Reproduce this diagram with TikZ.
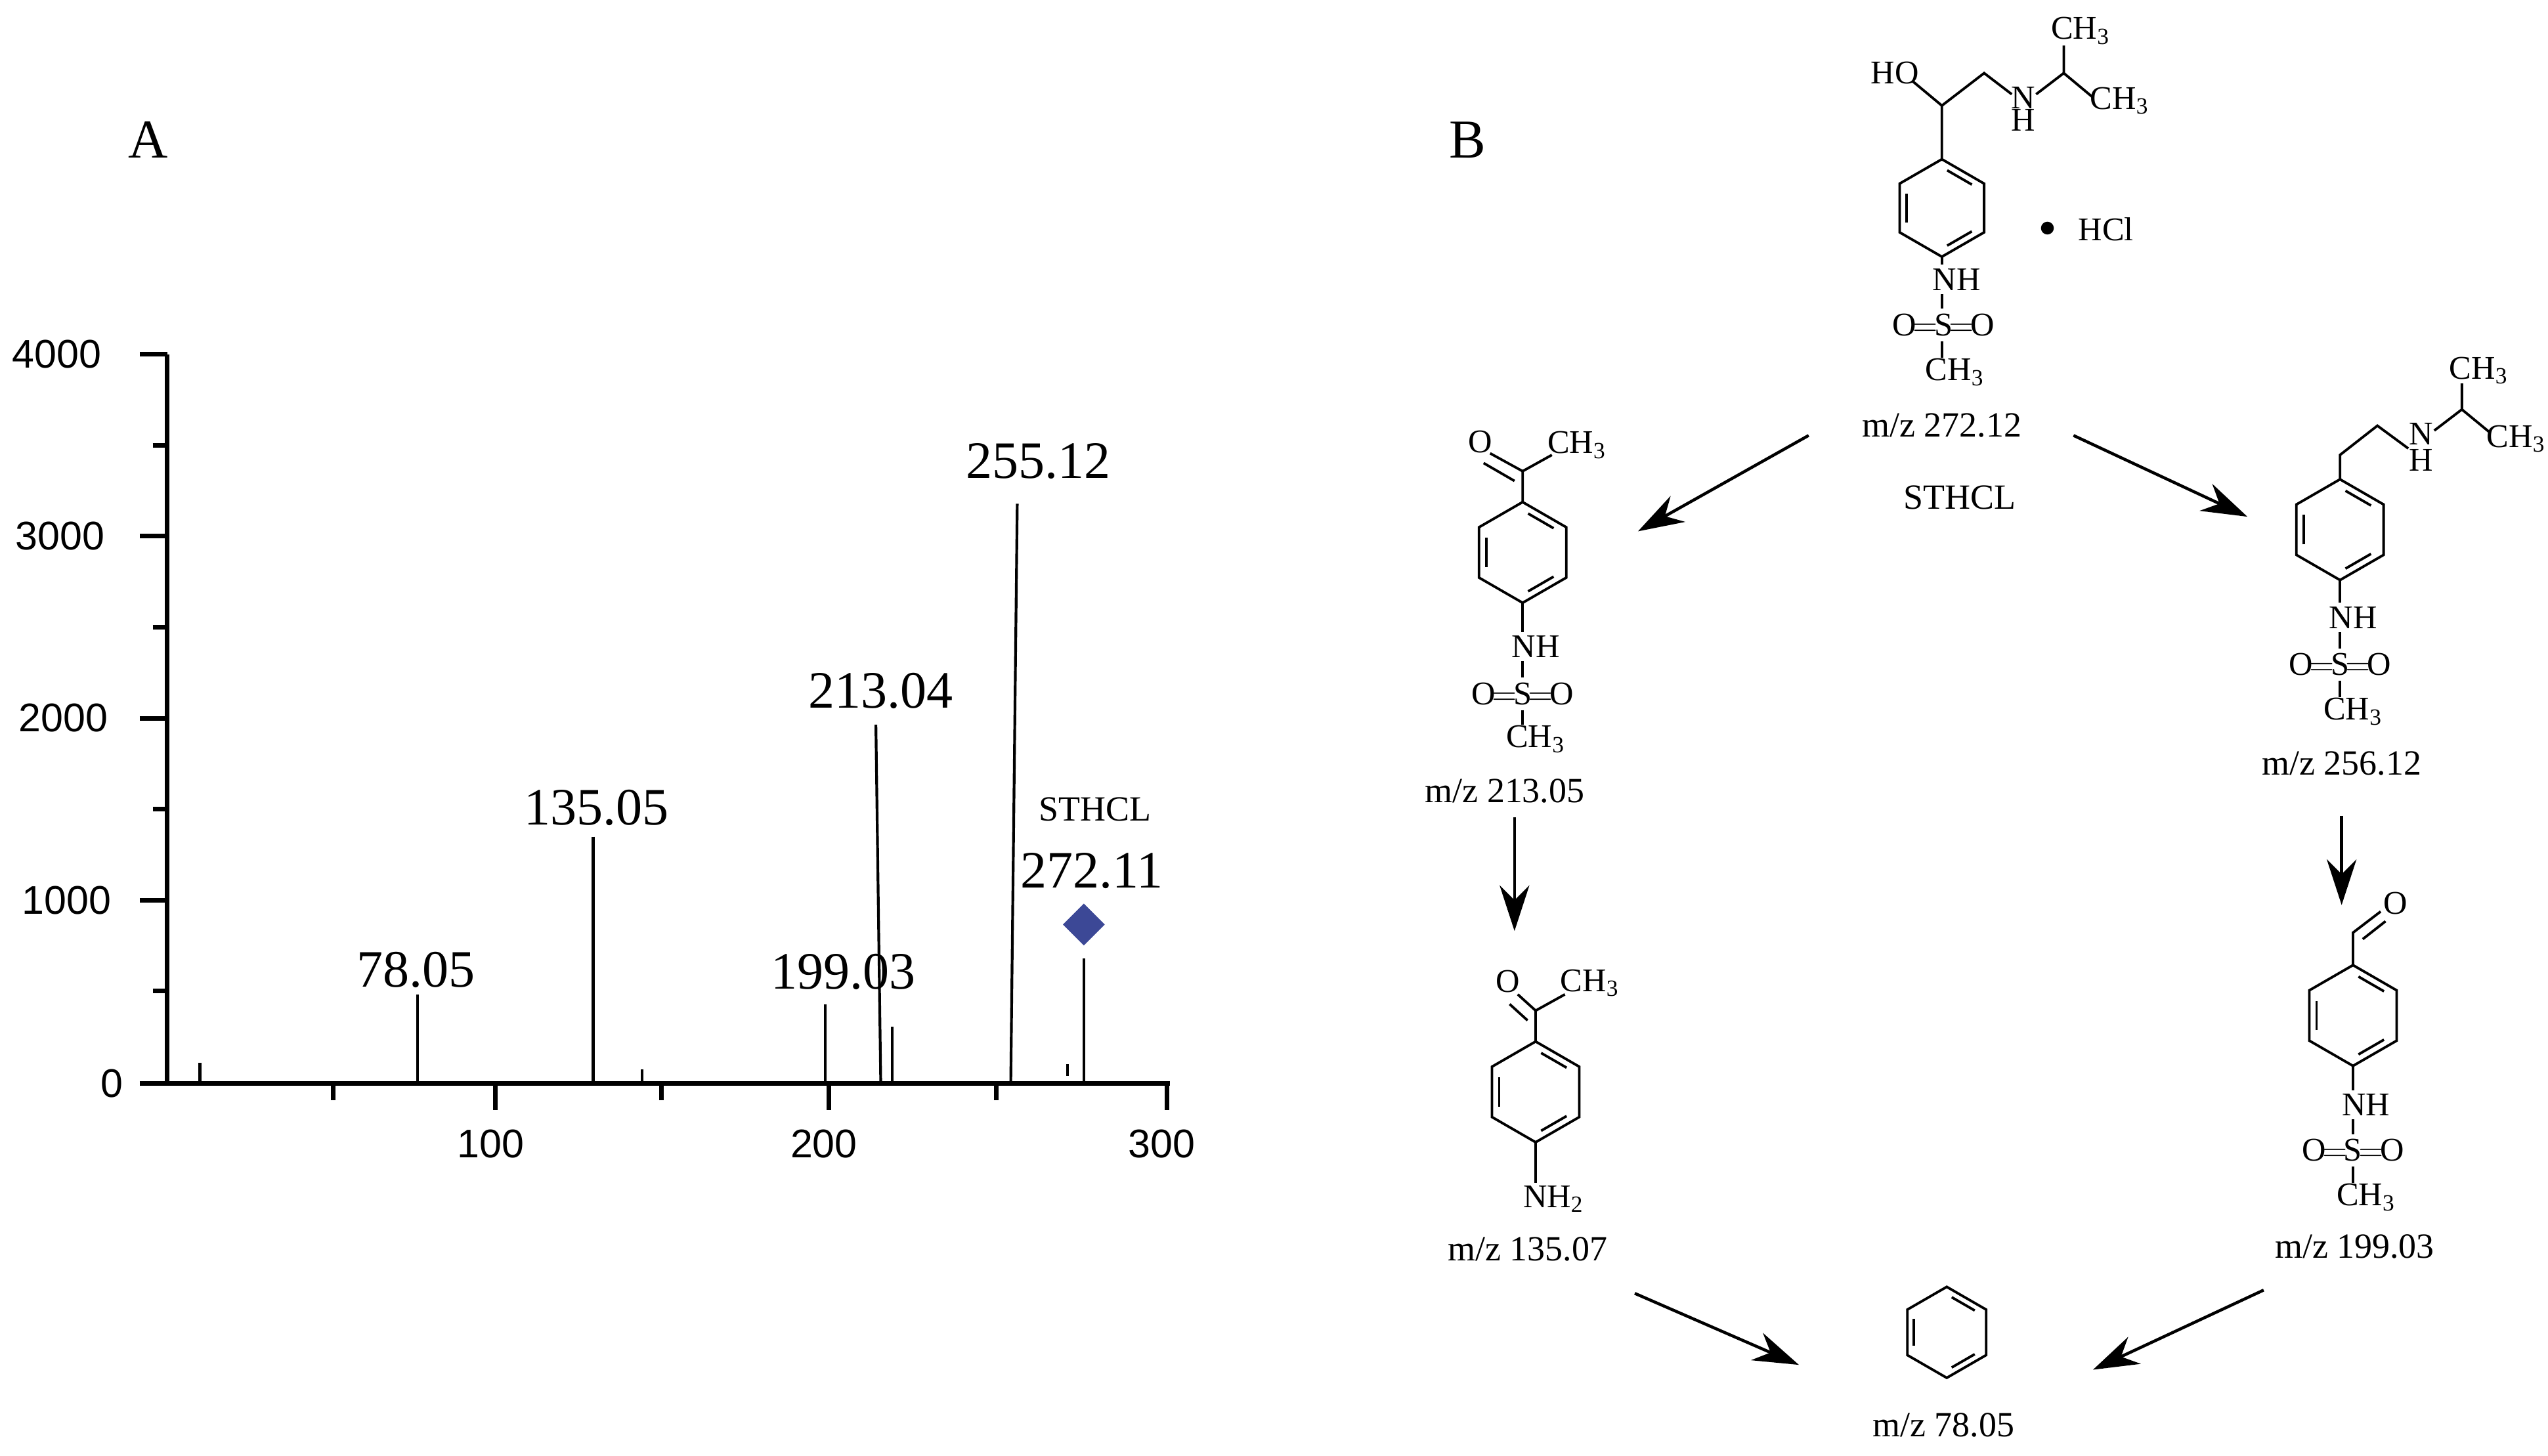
\documentclass[tikz,border=0pt]{standalone}
\usepackage{fontspec}
\setmainfont{Liberation Serif}
\newfontfamily\axfont{Liberation Sans}
\usetikzlibrary{arrows.meta,shapes.geometric}
\tikzset{
  bond/.style={line width=1.1pt},
  ax/.style={line width=2pt},
  pk/.style={line width=1.2pt},
  atom/.style={inner sep=0pt,font=\fontsize{14.5}{16}\selectfont},
  mz/.style={inner sep=0pt,font=\fontsize{15.5}{18}\selectfont},
  pklab/.style={inner sep=0pt,font=\fontsize{23}{26}\selectfont},
  ticklab/.style={inner sep=0pt,font=\axfont\fontsize{17.5}{20}\selectfont},
  panel/.style={inner sep=0pt,font=\fontsize{24}{28}\selectfont},
  rxn/.style={line width=1.3pt,-{Stealth[length=20pt,width=13pt]}}
}
\newcommand{\benz}[3]{%
  \draw[bond] (#1,#2) +(90:#3) -- +(30:#3) -- +(-30:#3) -- +(-90:#3) -- +(-150:#3) -- +(150:#3) -- cycle;
  \draw[bond] (#1,#2) +(-82:0.78*#3) -- +(-38:0.78*#3);
  \draw[bond] (#1,#2) +(158:0.78*#3) -- +(202:0.78*#3);
  \draw[bond] (#1,#2) +(38:0.78*#3) -- +(82:0.78*#3);
}
\begin{document}
\begin{tikzpicture}[x=0.025cm,y=-0.025cm]
\useasboundingbox (0,0) rectangle (1568,896);
% ---------- Panel A ----------
\node[panel] (pA) at (91,86) {A};
\draw[ax] (103,218) -- (103,667) -- (720,667);
\foreach \yy/\lab/\lx in {218/4000/35,330/3000/37,442/2000/39,554/1000/41,667/0/69}{
  \draw[ax] (86,\yy) -- (103,\yy);
  \node[ticklab] at (\lx,\yy) {\lab};
}
\foreach \yy in {274,386,498,610}{\draw[ax] (94,\yy) -- (103,\yy);}
\foreach \xx/\lab in {305/100,510/200,718/300}{
  \draw[ax] (\xx,667) -- (\xx,683);
  \node[ticklab] at (\xx-3,704) {\lab};
}
\foreach \xx in {205,407,613}{\draw[ax] (\xx,667) -- (\xx,677);}
% peaks
\draw[pk] (123,654) -- (123,667);
\draw[pk] (257,612) -- (257,667);
\draw[pk] (365,515) -- (365,667);
\draw[pk] (395,658) -- (395,667);
\draw[pk] (508,618) -- (508,667);
\draw[pk] (539,446) -- (542,667);
\draw[pk] (549,632) -- (549,667);
\draw[pk] (626,310) -- (622,667);
\draw[pk] (657,655) -- (657,662);
\draw[pk] (667,590) -- (667,667);
\node[diamond,fill={rgb,255:red,60;green,72;blue,150},inner sep=0pt,minimum size=0.65cm] (dia) at (667,569) {};
\node[pklab] at (256,597) {78.05};
\node[pklab] at (367,497) {135.05};
\node[pklab] at (519,598) {199.03};
\node[pklab] at (542,425) {213.04};
\node[pklab] at (639,284) {255.12};
\node[mz] at (674,498) {STHCL};
\node[pklab] at (672,536) {272.11};
% ---------- Panel B ----------
\node[panel] (pB) at (903,86) {B};
% Mol 1 (STHCL)
\benz{1195}{128}{30}
\draw[bond] (1195,98) -- (1195,65) -- (1177,50);
\node[atom] at (1166,45) {HO};
\draw[bond] (1195,65) -- (1221,45) -- (1238,58);
\node[atom] at (1245,60) {N};
\node[atom] at (1245,74) {H};
\draw[bond] (1253,58) -- (1270,45) -- (1270,28);
\node[atom,anchor=west] at (1262,19) {CH\textsubscript{3}};
\draw[bond] (1270,45) -- (1288,60);
\node[atom,anchor=west] at (1286,62) {CH\textsubscript{3}};
\draw[bond] (1195,158) -- (1195,163);
\node[atom] at (1204,172) {NH};
\draw[bond] (1195,181) -- (1195,190);
\node[atom] (s1) at (1196,200) {O$\mkern-2mu=\mkern-2mu$S$\mkern-2mu=\mkern-2mu$O};
\draw[bond] (1195,210) -- (1195,220);
\node[atom] at (1203,229) {CH\textsubscript{3}};
\node[mz] (m1) at (1195,262) {m/z 272.12};
\node[atom] at (1260,141) {$\bullet$};
\node[atom] at (1296,141) {HCl};
\node[mz] (st) at (1206,306) {STHCL};
% Mol 2 (213.05)
\benz{937}{340}{31}
\draw[bond] (937,309) -- (937,290) -- (955,280);
\draw[bond] (937,290) -- (917,279);
\draw[bond] (932,296) -- (913,285);
\node[atom] at (911,272) {O};
\node[atom,anchor=west] at (952,274) {CH\textsubscript{3}};
\draw[bond] (937,371) -- (937,389);
\node[atom] at (945,398) {NH};
\draw[bond] (937,407) -- (937,417);
\node[atom] at (937,427) {O$\mkern-2mu=\mkern-2mu$S$\mkern-2mu=\mkern-2mu$O};
\draw[bond] (937,437) -- (937,446);
\node[atom] at (945,455) {CH\textsubscript{3}};
\node[mz] (m2) at (926,487) {m/z 213.05};
% Mol 3 (135.07)
\benz{945}{672}{31}
\draw[bond] (945,641) -- (945,622) -- (963,612);
\draw[bond] (945,622) -- (934,612);
\draw[bond] (940,628) -- (929,618);
\node[atom] at (928,604) {O};
\node[atom,anchor=west] at (960,605) {CH\textsubscript{3}};
\draw[bond] (945,703) -- (945,728);
\node[atom] at (956,738) {NH\textsubscript{2}};
\node[mz] (m3) at (940,769) {m/z 135.07};
% Mol 4 (256.12)
\benz{1440}{326}{31}
\draw[bond] (1440,295) -- (1440,280) -- (1463,262) -- (1482,276);
\node[atom] at (1490,267) {N};
\node[atom] at (1490,283) {H};
\draw[bond] (1498,265) -- (1515,252) -- (1515,236);
\node[atom,anchor=west] at (1507,228) {CH\textsubscript{3}};
\draw[bond] (1515,252) -- (1532,266);
\node[atom,anchor=west] at (1530,270) {CH\textsubscript{3}};
\draw[bond] (1440,357) -- (1440,371);
\node[atom] at (1448,380) {NH};
\draw[bond] (1440,389) -- (1440,399);
\node[atom] at (1440,409) {O$\mkern-2mu=\mkern-2mu$S$\mkern-2mu=\mkern-2mu$O};
\draw[bond] (1440,419) -- (1440,429);
\node[atom] at (1448,438) {CH\textsubscript{3}};
\node[mz] (m4) at (1441,470) {m/z 256.12};
% Mol 5 (199.03)
\benz{1448}{625}{31}
\draw[bond] (1448,594) -- (1448,574) -- (1465,561);
\draw[bond] (1454,578) -- (1468,567);
\node[atom] at (1474,556) {O};
\draw[bond] (1448,656) -- (1448,671);
\node[atom] at (1456,680) {NH};
\draw[bond] (1448,689) -- (1448,698);
\node[atom] at (1448,708) {O$\mkern-2mu=\mkern-2mu$S$\mkern-2mu=\mkern-2mu$O};
\draw[bond] (1448,718) -- (1448,728);
\node[atom] at (1456,737) {CH\textsubscript{3}};
\node[mz] (m5) at (1449,767) {m/z 199.03};
% Mol 6 (78.05)
\benz{1198}{820}{28}
\node[mz] (m6) at (1196,877) {m/z 78.05};
% arrows
\coordinate (a1s) at (1113,268); \coordinate (a1e) at (1008,327);
\coordinate (a2s) at (1276,268); \coordinate (a2e) at (1383,318);
\coordinate (a3s) at (932,503);  \coordinate (a3e) at (932,573);
\coordinate (a4s) at (1441,502); \coordinate (a4e) at (1441,557);
\coordinate (a5s) at (1006,796); \coordinate (a5e) at (1107,840);
\coordinate (a6s) at (1393,794); \coordinate (a6e) at (1288,843);
\foreach \i in {1,...,6}{\draw[rxn] (a\i s) -- (a\i e);}
\end{tikzpicture}
\end{document}
